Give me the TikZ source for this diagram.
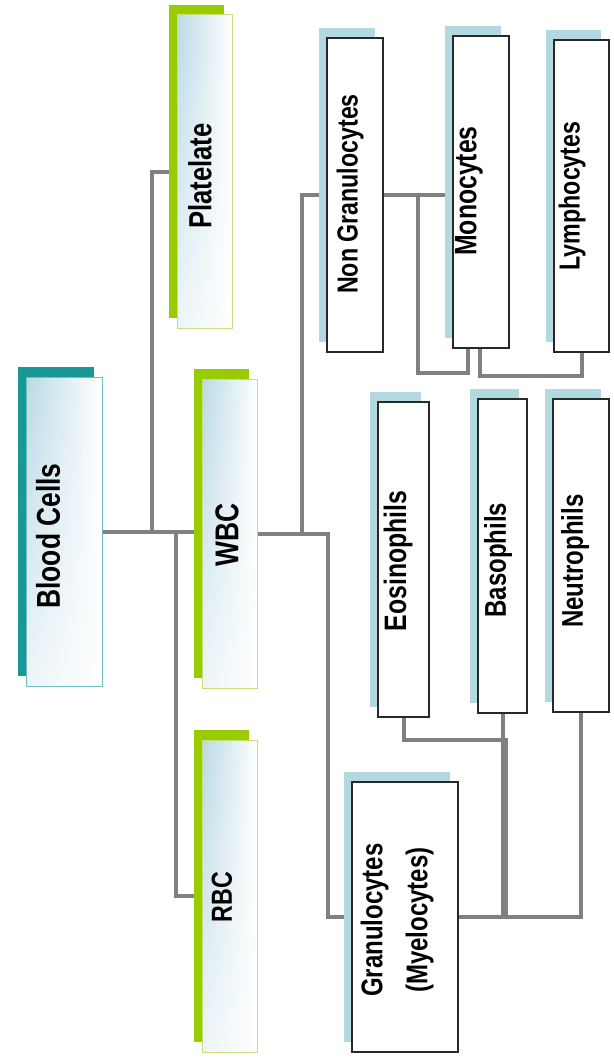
\documentclass[tikz,border=0pt]{standalone}
\usepackage{fontspec}
\newfontfamily\lab[FakeStretch=0.8]{Liberation Sans}
\usetikzlibrary{calc,fadings}
\pgfdeclarelayer{bg}\pgfdeclarelayer{sh}\pgfsetlayers{bg,sh,main}
\definecolor{tealsh}{RGB}{26,152,152}
\definecolor{tealbd}{RGB}{110,190,190}
\definecolor{greensh}{RGB}{153,204,0}
\definecolor{greenbd}{RGB}{200,222,120}
\definecolor{bluesh}{RGB}{178,216,224}
\definecolor{gradb}{RGB}{186,218,230}
\definecolor{conncol}{RGB}{128,128,128}
\definecolor{boxbd}{RGB}{40,40,40}
\newcommand\boxshadow[2]{%
  \begin{pgfonlayer}{sh}
    \fill[#2] ($(#1.north west)+(-8,-10)$) rectangle ($(#1.south east)+(-8,-10)$);
  \end{pgfonlayer}}
\begin{document}
\begin{tikzpicture}[x=1pt,y=-1pt,
  basebox/.style={rectangle, anchor=north west, inner sep=0, outer sep=0},
  gradbox/.style={basebox, left color=gradb, right color=white,
    path picture={\fill[white,path fading=north,fill opacity=.75]
      (path picture bounding box.south west) rectangle (path picture bounding box.north east);}},
  tealbox/.style={gradbox, draw=tealbd, line width=1pt},
  greenbox/.style={gradbox, draw=greenbd, line width=1pt},
  whitebox/.style={basebox, fill=white, draw=boxbd, line width=1.2pt},
  lbl/.style={rotate=90, inner sep=0, text=black, align=center},
  conn/.style={draw=conncol, line width=4pt}]
\useasboundingbox (0,0) rectangle (613,1062);

% boxes
\node[tealbox, minimum width=76, minimum height=309] (blood) at (26,377) {};
\node[greenbox, minimum width=55, minimum height=313] (plat) at (177,15) {};
\node[greenbox, minimum width=55, minimum height=309] (wbc) at (202,379) {};
\node[greenbox, minimum width=55, minimum height=312] (rbc) at (202,740) {};
\node[whitebox, minimum width=56, minimum height=314] (ngran) at (327,38) {};
\node[whitebox, minimum width=56, minimum height=312] (mono) at (453,36) {};
\node[whitebox, minimum width=55, minimum height=312] (lym) at (554,40) {};
\node[whitebox, minimum width=51, minimum height=315] (eos) at (378,402) {};
\node[whitebox, minimum width=49, minimum height=314] (baso) at (478,399) {};
\node[whitebox, minimum width=56, minimum height=313] (neut) at (553,399) {};
\node[whitebox, minimum width=106, minimum height=270] (gran) at (352,782) {};

% shadows
\boxshadow{blood}{tealsh}
\boxshadow{plat}{greensh}
\boxshadow{wbc}{greensh}
\boxshadow{rbc}{greensh}
\boxshadow{ngran}{bluesh}
\boxshadow{mono}{bluesh}
\boxshadow{lym}{bluesh}
\boxshadow{eos}{bluesh}
\boxshadow{baso}{bluesh}
\boxshadow{neut}{bluesh}
\boxshadow{gran}{bluesh}

% labels
\node[lbl, font=\lab\bfseries\fontsize{33}{38}\selectfont] (tblood) at (48,536) {Blood Cells};
\node[lbl, font=\lab\bfseries\fontsize{32}{38}\selectfont] (tplat) at (200,176) {Platelate};
\node[lbl, font=\lab\bfseries\fontsize{33}{38}\selectfont] (twbc) at (227,535) {WBC};
\node[lbl, font=\lab\bfseries\fontsize{29}{34}\selectfont] (trbc) at (222,897) {RBC};
\node[lbl, font=\lab\bfseries\fontsize{29}{34}\selectfont] (tngran) at (350,194) {Non Granulocytes};
\node[lbl, font=\lab\bfseries\fontsize{31}{36}\selectfont] (tmono) at (469,191) {Monocytes};
\node[lbl, font=\lab\bfseries\fontsize{29}{34}\selectfont] (tlym) at (572,196) {Lymphocytes};
\node[lbl, font=\lab\bfseries\fontsize{31}{36}\selectfont] (teos) at (398,561) {Eosinophils};
\node[lbl, font=\lab\bfseries\fontsize{30}{36}\selectfont] (tbaso) at (498,560) {Basophils};
\node[lbl, font=\lab\bfseries\fontsize{30}{36}\selectfont] (tneut) at (575,561) {Neutrophils};
\node[lbl, font=\lab\bfseries\fontsize{30}{45}\selectfont] (tgran) at (397,920) {Granulocytes\\(Myelocytes)};

% background and connectors
\begin{pgfonlayer}{bg}
\fill[white] (0,0) rectangle (613,1062);
\draw[conn] (blood.east) -- ++(50,0) |- (plat.west);
\draw[conn] (blood.east) -- (blood.east -| wbc.west);
\draw[conn] (blood.east) -- ++(74,0) |- (rbc.west);
\draw[conn] (wbc.east) -- ++(45,0) |- (ngran.west);
\draw[conn] (wbc.east) -- ++(71,0) |- (gran.west);
\draw[conn] (ngran.east) -- (ngran.east -| mono.west);
\draw[conn] (ngran.east) -- ++(35,0) |- ($(mono.south)+(-13,25)$) -- ($(mono.south)+(-13,0)$);
\draw[conn] ($(mono.south)+(-1,0)$) -- ++(0,28) -| (lym.south);
\draw[conn] (gran.east) -| (neut.south);
\draw[conn] (gran.east) -| ++(47.5,-177) -| (eos.south);
\draw[conn] (baso.south) -- (baso.south |- gran.east);
\end{pgfonlayer}
\end{tikzpicture}
\end{document}
